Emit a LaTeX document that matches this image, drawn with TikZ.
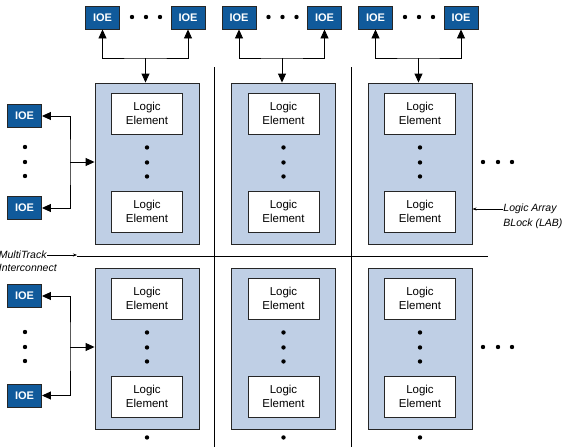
\documentclass[tikz,border=0pt]{standalone}
\usepackage{fontspec}
\setmainfont{Liberation Sans}
\usetikzlibrary{arrows.meta,positioning}

\definecolor{ioeblue}{RGB}{16,90,155}
\definecolor{labblue}{RGB}{191,207,229}

\tikzset{
  ioe/.style={draw=black!85, fill=ioeblue, text=white, font=\fontsize{11}{13}\selectfont\bfseries,
    minimum width=34pt, minimum height=23pt, inner sep=0pt},
  labbox/.style={draw=black!85, fill=labblue, minimum width=104pt, minimum height=161pt},
  lebox/.style={draw=black!85, fill=white, minimum width=71pt, minimum height=41pt, inner sep=0pt,
    align=center, font=\fontsize{11.5}{14}\selectfont},
  note/.style={font=\fontsize{10.5}{12}\selectfont\itshape, inner sep=0pt},
  bigtip/.style={-{Triangle[length=9pt,width=8pt]}},
  bigtips/.style={{Triangle[length=9pt,width=8pt]}-{Triangle[length=9pt,width=8pt]}},
  smalltip/.style={-{Stealth[length=4pt,width=3pt]}},
}

\begin{document}
\begin{tikzpicture}[x=1pt, y=-1pt, line width=0.9pt]
  \useasboundingbox (0,0) rectangle (579,447);

  % logic array blocks with their top IOEs
  \foreach \c in {0,1,2}{
    \pgfmathsetmacro\xc{147+136.5*\c}
    \foreach \r/\yc in {0/163.5, 1/348.5}{
      \node[labbox] (lab-\r-\c) at (\xc,\yc) {};
      \node[lebox, below=10pt of lab-\r-\c.north] (le-\r-\c-a) {Logic\\Element};
      \node[lebox, above=12pt of lab-\r-\c.south] (le-\r-\c-b) {Logic\\Element};
      \foreach \d in {13,28,42}
        \fill ([yshift=-\d pt]le-\r-\c-a.south) circle (2.2pt);
    }
    \fill ([yshift=-8pt]lab-1-\c.south) circle (2.2pt);
    \node[ioe] (tioe-\c-a) at (\xc-44.5,17.5) {IOE};
    \node[ioe] (tioe-\c-b) at (\xc+41,17.5) {IOE};
    \foreach \d in {-15,-1,13}
      \fill (\xc+\d,17) circle (2.2pt);
    \coordinate (top-\c) at (\xc-1.5,58);
    \draw[bigtips] (tioe-\c-a.south) |- (top-\c) -| (tioe-\c-b.south);
    \draw[bigtip] (top-\c) -- (top-\c |- lab-0-\c.north);
  }

  % IOEs on the left side
  \foreach \r/\ya/\yb/\yl in {0/116/208/162, 1/296/395.5/347}{
    \node[ioe] (lioe-\r-a) at (24.5,\ya) {IOE};
    \node[ioe] (lioe-\r-b) at (24.5,\yb) {IOE};
    \foreach \d in {-15,0,14}
      \fill (25,\yl+\d) circle (2.2pt);
    \coordinate (left-\r) at (70,\yl);
    \draw[bigtips] (lioe-\r-a.east) -| (left-\r) |- (lioe-\r-b.east);
    \draw[bigtip] (left-\r) -- (left-\r -| lab-\r-0.west);
    \foreach \d in {483,498,512}
      \fill (\d,\yl) circle (2.2pt);
  }

  % MultiTrack interconnect
  \coordinate (hl) at (77,256);
  \draw (hl) -- (488,256);
  \draw (214,67) -- (214,447);
  \draw (351,67) -- (351,447);
  \node[note, anchor=east] (multi) at (47,255) {MultiTrack};
  \node[note, anchor=north west] (inter) at ([yshift=-5pt]multi.south west) {Interconnect};
  \draw[smalltip, line width=0.6pt] (multi.east) -- (multi.east -| hl);

  % label of the LAB
  \node[note, anchor=west] (lablbl) at (503,209) {Logic Array};
  \node[note, anchor=north west] (lablbl2) at ([yshift=-4pt]lablbl.south west) {BLock (LAB)};
  \draw[smalltip, line width=0.6pt] (lablbl.west) -- (lablbl.west -| lab-0-2.east);
\end{tikzpicture}
\end{document}
